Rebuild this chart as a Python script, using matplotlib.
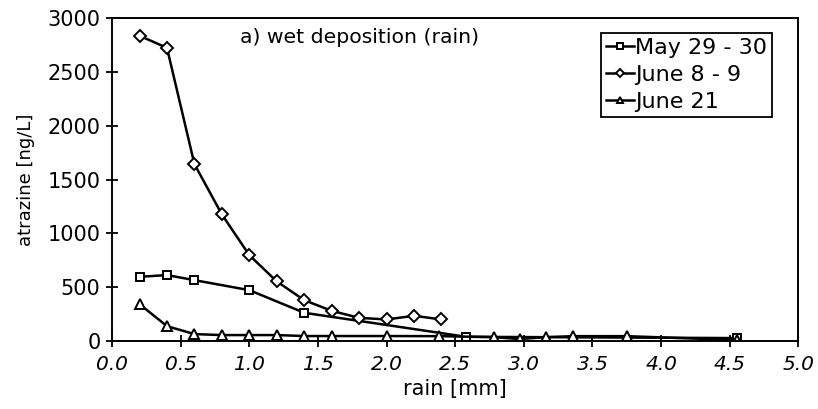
import matplotlib
matplotlib.use("Agg")
import matplotlib.pyplot as plt

plt.rcParams['font.family'] = ['DejaVu Sans']

may_x = [0.2, 0.4, 0.6, 1.0, 1.4, 2.58, 4.55]
may_y = [597, 613, 566, 473, 263, 40, 28]

june8_x = [0.2, 0.4, 0.6, 0.8, 1.0, 1.2, 1.4, 1.6, 1.8, 2.0, 2.2, 2.4]
june8_y = [2835, 2723, 1643, 1176, 798, 554, 380, 281, 216, 201, 235, 201]

june21_x = [0.2, 0.4, 0.6, 0.8, 1.0, 1.2, 1.4, 1.6, 2.0, 2.38, 2.78, 2.97, 3.16, 3.36, 3.75, 4.55]
june21_y = [343, 139, 65, 56, 56, 56, 47, 47, 47, 46, 37, 19, 37, 46, 46, 10]

labels = ['May 29 - 30', 'June 8 - 9', 'June 21']
xticks = [0.0, 0.5, 1.0, 1.5, 2.0, 2.5, 3.0, 3.5, 4.0, 4.5, 5.0]
yticks = [0, 500, 1000, 1500, 2000, 2500, 3000]

fig = plt.figure(figsize=(8.18, 4.09), dpi=100)
ax = fig.add_axes([0.137, 0.166, 0.839, 0.790])

mk = dict(color='black', linewidth=1.8, markerfacecolor='white',
          markeredgecolor='black', markeredgewidth=1.4)
ax.plot(may_x, may_y, marker='s', markersize=6.2, label=labels[0], **mk)
ax.plot(june8_x, june8_y, marker='D', markersize=6.2, label=labels[1], **mk)
ax.plot(june21_x, june21_y, marker='^', markersize=7.5, label=labels[2], **mk)

ax.set_xlim(0, 5)
ax.set_ylim(0, 3000)
ax.set_xticks(xticks)
ax.set_xticklabels([f"{v:.1f}" for v in xticks], fontstyle='italic', fontsize=14.5)
ax.set_yticks(yticks)
ax.set_yticklabels([str(v) for v in yticks], fontsize=15)
ax.tick_params(direction='inout', length=8.6, width=1.3)
ax.tick_params(axis='y', pad=4)
ax.tick_params(axis='x', pad=6)
for s in ax.spines.values():
    s.set_linewidth(1.4)

ax.set_xlabel('rain [mm]', fontsize=15, labelpad=3)
ax.set_ylabel('atrazine [ng/L]', fontsize=13, labelpad=9)
ax.text(0.186, 0.94, 'a) wet deposition (rain)', transform=ax.transAxes,
        fontsize=14.7, va='center', ha='left')

leg = ax.legend(loc='upper left', bbox_to_anchor=(601 / 818, 1 - 33 / 409),
                bbox_transform=fig.transFigure, fontsize=16,
                frameon=True, fancybox=False, edgecolor='black', framealpha=1,
                handlelength=1.25, handletextpad=0.05, borderpad=0.22,
                labelspacing=0.32, borderaxespad=0, markerscale=0.65)
leg.get_frame().set_linewidth(1.3)

fig.savefig('out.png', dpi=100)
